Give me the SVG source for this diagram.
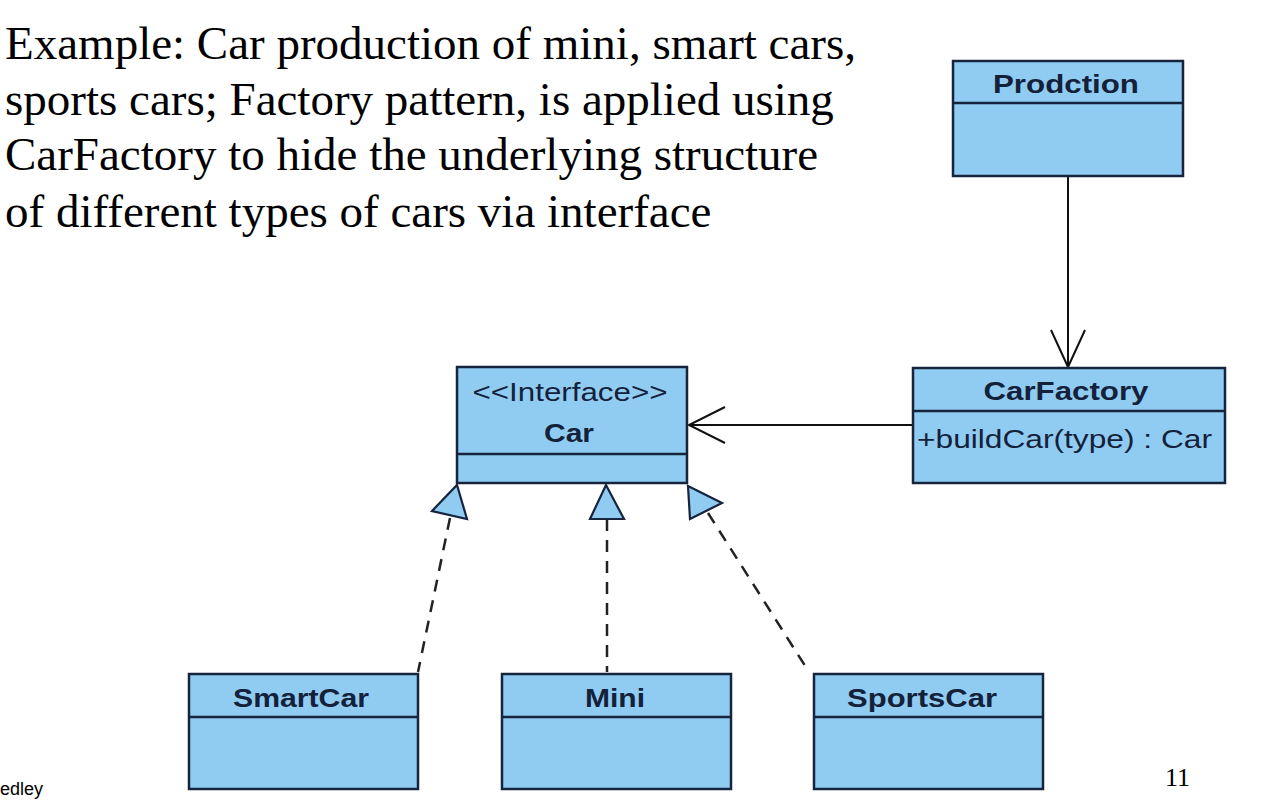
<svg xmlns="http://www.w3.org/2000/svg" width="1272" height="812" viewBox="0 0 1272 812">
<defs>
<style>
.box{fill:#90ccf2;stroke:#16243e;stroke-width:2.5}
.div{stroke:#16243e;stroke-width:2.5}
.t{font-family:"Liberation Sans",Arial,sans-serif;font-size:26px;fill:#14213a;text-anchor:middle}
.b{font-weight:bold}
.main{font-family:"Liberation Serif","Times New Roman",serif;font-size:47px;fill:#000}
.conn{stroke:#111;stroke-width:2;fill:none}
.dash{stroke:#222;stroke-width:2.5;fill:none;stroke-dasharray:12 9}
.tri{fill:#90ccf2;stroke:#16243e;stroke-width:2.2}
</style>
</defs>
<rect width="1272" height="812" fill="#fff"/>
<g id="caption">
<text class="main" x="5" y="59">Example: Car production of mini, smart cars,</text>
<text class="main" x="5" y="115">sports cars; Factory pattern, is applied using</text>
<text class="main" x="5" y="170">CarFactory to hide the underlying structure</text>
<text class="main" x="5" y="227">of different types of cars via interface</text>
</g>
<g id="connectors">
<line class="conn" x1="1068" y1="176" x2="1068" y2="367"/>
<polyline class="conn" points="1051,330 1068,367 1085,330"/>
<line class="conn" x1="913" y1="425" x2="689" y2="425"/>
<polyline class="conn" points="725,407 689,425 725,443"/>
<line class="dash" x1="450" y1="518" x2="418" y2="672"/>
<line class="dash" x1="607" y1="519" x2="607" y2="672"/>
<line class="dash" x1="708" y1="513" x2="809" y2="672"/>
<polygon class="tri" points="457,485 467,519 432,511"/>
<polygon class="tri" points="606,485 624,519 590,519"/>
<polygon class="tri" points="688,486 722,503 690,519"/>
</g>
<g id="Prodction">
<rect class="box" x="953" y="61" width="230" height="115"/>
<line class="div" x1="953" y1="103" x2="1183" y2="103"/>
<text class="t b" x="1066" y="93" textLength="146" lengthAdjust="spacingAndGlyphs">Prodction</text>
</g>
<g id="CarFactory">
<rect class="box" x="913" y="368" width="312" height="115"/>
<line class="div" x1="913" y1="411" x2="1225" y2="411"/>
<text class="t b" x="1066" y="400" textLength="165" lengthAdjust="spacingAndGlyphs">CarFactory</text>
<text class="t" x="917" y="448" style="text-anchor:start" textLength="295" lengthAdjust="spacingAndGlyphs">+buildCar(type) : Car</text>
</g>
<g id="Car">
<rect class="box" x="457" y="367" width="230" height="116"/>
<line class="div" x1="457" y1="454" x2="687" y2="454"/>
<text class="t" x="570" y="401" textLength="195" lengthAdjust="spacingAndGlyphs">&lt;&lt;Interface&gt;&gt;</text>
<text class="t b" x="569" y="442" textLength="50" lengthAdjust="spacingAndGlyphs">Car</text>
</g>
<g id="SmartCar">
<rect class="box" x="189" y="674" width="229" height="115"/>
<line class="div" x1="189" y1="717" x2="418" y2="717"/>
<text class="t b" x="301" y="707" textLength="136" lengthAdjust="spacingAndGlyphs">SmartCar</text>
</g>
<g id="Mini">
<rect class="box" x="502" y="674" width="229" height="115"/>
<line class="div" x1="502" y1="717" x2="731" y2="717"/>
<text class="t b" x="615" y="707" textLength="60" lengthAdjust="spacingAndGlyphs">Mini</text>
</g>
<g id="SportsCar">
<rect class="box" x="814" y="674" width="229" height="115"/>
<line class="div" x1="814" y1="717" x2="1043" y2="717"/>
<text class="t b" x="922" y="707" textLength="150" lengthAdjust="spacingAndGlyphs">SportsCar</text>
</g>
<g id="footer">
<text x="0" y="795" style="font-family:'Liberation Sans',Arial,sans-serif;font-size:18px;fill:#000">edley</text>
<text x="1165" y="786" style="font-family:'Liberation Serif','Times New Roman',serif;font-size:26px;fill:#000">11</text>
</g>
</svg>
